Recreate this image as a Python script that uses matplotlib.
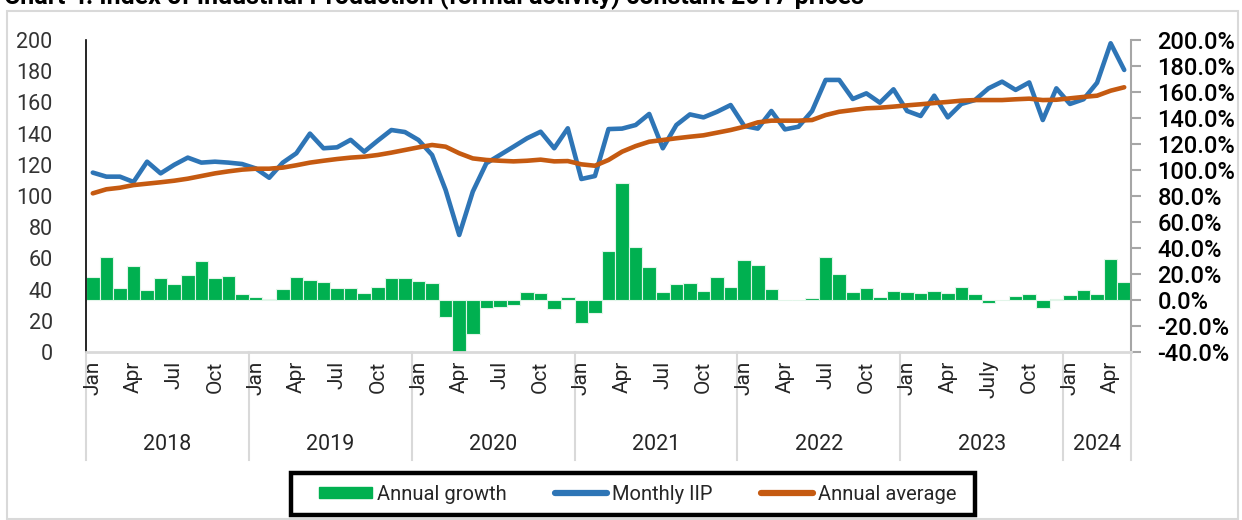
import matplotlib
matplotlib.use("Agg")
import matplotlib.pyplot as plt
from matplotlib.patches import Rectangle, Patch
from matplotlib.lines import Line2D
from matplotlib.ticker import FuncFormatter, MultipleLocator
import numpy as np

plt.rcParams['font.family'] = ['Roboto', 'DejaVu Sans']

# ---------------- data ----------------
years = ["2018", "2019", "2020", "2021", "2022", "2023", "2024"]
months_per_year = [12, 12, 12, 12, 12, 12, 5]

monthly_iip = [
    115, 112.4, 112.4, 109, 122, 114.5, 120, 124.6, 121.4, 122, 121.4, 120.5,
    117.7, 111.7, 121.4, 127.4, 140, 130.6, 131.2, 136, 128.4, 135.5, 142.3, 141,
    135.9, 126.3, 103.8, 75, 102.8, 121, 126.3, 131.6, 137, 141.2, 130.6, 143.4,
    110.9, 112.8, 142.9, 143.2, 145.5, 152.6, 130.6, 145.5, 152.3, 150.4, 154, 158.3,
    144.9, 143.2, 154.5, 142.7, 144.4, 154.5, 174.4, 174.4, 162.2, 165.8, 159.8, 168.4,
    154.5, 151.3, 164.3, 150.4, 159, 161.5, 169, 173.3, 168, 172.8, 148.7, 169,
    159, 162, 172.6, 197.9, 180.8,
]

annual_average = [
    101.7, 104.3, 105.3, 107, 107.9, 108.8, 109.8, 111.1, 112.8, 114.5, 115.8, 116.9,
    117.5, 117.5, 118.2, 119.7, 121.4, 122.6, 123.7, 124.6, 125.2, 126.3, 127.8, 129.5,
    131.2, 132.7, 131.6, 127.4, 124.1, 123.1, 122.6, 122.2, 122.6, 123.3, 122.2, 122.4,
    120.3, 119.4, 123.1, 128.4, 132, 134.8, 135.9, 137, 138, 138.9, 140.6, 142.3,
    144.4, 147.2, 148.3, 148.3, 148.3, 148.7, 151.9, 154, 155.1, 156.2, 156.6, 157.3,
    158.1, 158.8, 159.6, 160.3, 161.1, 161.5, 161.5, 161.5, 162, 162.4, 161.5, 161.7,
    162.6, 163.5, 164.3, 167.5, 169.7,
]

annual_growth = [
    17.4, 33.3, 9.0, 25.9, 7.4, 16.7, 12.6, 19.2, 29.7, 16.7, 18.2, 4.9,
    2.6, 0.5, 8.2, 17.4, 15.1, 13.6, 9.5, 9.0, 5.4, 10.3, 16.7, 16.7,
    14.6, 12.8, -13.3, -39.7, -26.2, -6.4, -5.6, -4.1, 6.2, 5.1, -7.2, 2.1,
    -17.4, -10.3, 37.4, 90.3, 40.8, 25.4, 6.2, 12.3, 12.8, 6.9, 17.9, 10.3,
    30.5, 26.7, 8.2, -0.2, -0.3, 1.3, 33.3, 19.7, 6.4, 9.5, 2.6, 6.7,
    5.9, 5.4, 6.7, 5.4, 10.3, 4.6, -2.6, -0.3, 3.3, 4.4, -5.9, 0.5,
    3.6, 7.7, 4.9, 31.3, 13.8,
]

month_tick_labels = [
    "Jan", "", "", "Apr", "", "", "Jul", "", "", "Oct", "", "",
    "Jan", "", "", "Apr", "", "", "Jul", "", "", "Oct", "", "",
    "Jan", "", "", "Apr", "", "", "Jul", "", "", "Oct", "", "",
    "Jan", "", "", "Apr", "", "", "Jul", "", "", "Oct", "", "",
    "Jan", "", "", "Apr", "", "", "Jul", "", "", "Oct", "", "",
    "Jan", "", "", "Apr", "", "", "July", "", "", "Oct", "", "",
    "Jan", "", "", "Apr", "",
]

title = "Chart 4: Index of Industrial Production (formal activity) constant 2017 prices"

# ---------------- figure ----------------
W, H = 1242, 520
fig = plt.figure(figsize=(W / 100, H / 100), dpi=100)

def fx(px):
    return px / W

def fy(py):
    return 1 - py / H

# outer light border
fig.patches.append(Rectangle((fx(7), fy(519)), fx(1238) - fx(7), fy(11) - fy(519),
                             transform=fig.transFigure, fill=False,
                             edgecolor="#D9D9D9", linewidth=1.5))

# title (only its lower part is visible, as in the reference)
fig.text(fx(4), fy(4), title, fontsize=18, fontweight="bold", color="#000000",
         va="baseline", ha="left")

left, right, top, bottom = 86, 1131, 40, 352
ax = fig.add_axes([fx(left), fy(bottom), fx(right) - fx(left), fy(top) - fy(bottom)])
ax2 = ax.twinx()

n = len(monthly_iip)
x = np.arange(n)

GREEN = "#00B050"
BLUE = "#2E75B6"
ORANGE = "#C55A11"

ax2.bar(x, annual_growth, width=1.0, color=GREEN, edgecolor="#E2F5E9", linewidth=0.8, zorder=2)
ax.plot(x, monthly_iip, color=BLUE, linewidth=3.3, solid_capstyle="round", zorder=3)
ax.plot(x, annual_average, color=ORANGE, linewidth=3.3, solid_capstyle="round", zorder=4)

ax.set_zorder(ax2.get_zorder() + 1)
ax.patch.set_visible(False)

ax.set_xlim(-0.5, n - 0.5)
ax.set_ylim(0, 200)
ax2.set_ylim(-40, 200)

ax.yaxis.set_major_locator(MultipleLocator(20))
ax2.yaxis.set_major_locator(MultipleLocator(20))
ax2.yaxis.set_major_formatter(FuncFormatter(lambda v, p: f"{v:.1f}%"))

for s in ["top", "right"]:
    ax.spines[s].set_visible(False)
for s in ["top", "left", "bottom"]:
    ax2.spines[s].set_visible(False)
ax.spines["left"].set_color("#000000")
ax.spines["left"].set_linewidth(1.2)
ax.spines["bottom"].set_color("#D9D9D9")
ax.spines["bottom"].set_linewidth(2)
ax2.spines["right"].set_color("#A6A6A6")
ax2.spines["right"].set_linewidth(1.5)

ax.tick_params(axis="y", length=0, pad=24, labelsize=15.5, labelcolor="#333333")
ax2.tick_params(axis="y", length=7, width=1.5, color="#A6A6A6", direction="out",
                pad=12, labelsize=17, labelcolor="#000000")
for t in ax2.get_yticklabels():
    t.set_fontweight("medium")

# month ticks
ax.set_xticks(x)
ax.set_xticklabels(month_tick_labels, rotation=90, fontsize=15, color="#262626",
                   va="top", ha="center")
ax.tick_params(axis="x", length=0, pad=6)

# year separators and labels
sep_depth = (460 - bottom) / (bottom - top)
bounds = np.concatenate([[0], np.cumsum(months_per_year)]) - 0.5
trans = ax.get_xaxis_transform()
for b in bounds:
    ax.plot([b, b], [0, -sep_depth], transform=trans, color="#D9D9D9",
            linewidth=1.5, clip_on=False, zorder=1)
year_y = -(445 - bottom) / (bottom - top)
for i, yr in enumerate(years):
    c = (bounds[i] + bounds[i + 1]) / 2
    ax.text(c, year_y, yr, transform=trans, ha="center", va="center",
            fontsize=15.5, color="#262626")

# legend (frame drawn separately to match the reference box)
fig.patches.append(Rectangle((fx(291), fy(515)), fx(975) - fx(291), fy(473) - fy(515),
                             transform=fig.transFigure, fill=True, facecolor="white",
                             edgecolor="#000000", linewidth=3.2, zorder=5))
handles = [
    Patch(facecolor=GREEN, edgecolor=GREEN),
    Line2D([0], [0], color=BLUE, linewidth=4.5, solid_capstyle="round"),
    Line2D([0], [0], color=ORANGE, linewidth=4.5, solid_capstyle="round"),
]
labels = ["Annual growth", "Monthly IIP", "Annual average"]
leg = fig.legend(handles, labels, loc="center", bbox_to_anchor=(fx(638), fy(494)),
                 ncol=3, frameon=False, fontsize=14.5,
                 handlelength=2.6, handleheight=0.5, handletextpad=0.25,
                 columnspacing=2.4, borderpad=0.3, borderaxespad=0)
leg.set_zorder(6)
for t in leg.get_texts():
    t.set_color("#262626")

fig.savefig("out.png", dpi=100)
